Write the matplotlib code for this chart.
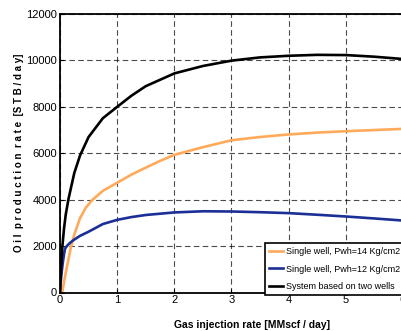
import numpy as np
import matplotlib
matplotlib.use("Agg")
import matplotlib.pyplot as plt

# values
x_orange = [0.04, 0.07, 0.1, 0.15, 0.19, 0.25, 0.35, 0.45, 0.57, 0.75, 1.0, 1.25, 1.5, 1.75, 2.0, 2.45, 3.0, 3.5, 4.0, 4.5, 5.0, 5.5, 6.0]
y_orange = [0, 450, 850, 1450, 1950, 2500, 3200, 3650, 4000, 4380, 4730, 5080, 5380, 5670, 5930, 6230, 6560, 6700, 6810, 6890, 6950, 7000, 7050]

x_blue = [0.0, 0.01, 0.02, 0.035, 0.05, 0.07, 0.09, 0.13, 0.18, 0.25, 0.35, 0.5, 0.75, 1.0, 1.25, 1.5, 2.0, 2.5, 3.0, 3.5, 4.0, 4.5, 5.0, 5.5, 6.0]
y_blue = [0, 350, 650, 1000, 1300, 1650, 1900, 2030, 2150, 2280, 2440, 2620, 2950, 3130, 3250, 3340, 3450, 3500, 3490, 3460, 3420, 3350, 3275, 3190, 3100]

x_black = [0.0, 0.01, 0.02, 0.04, 0.07, 0.1, 0.146, 0.2, 0.25, 0.35, 0.5, 0.75, 1.0, 1.25, 1.5, 2.0, 2.5, 3.0, 3.5, 4.0, 4.5, 5.0, 5.5, 6.0]
y_black = [0, 600, 1100, 1950, 2750, 3350, 4000, 4600, 5150, 5900, 6700, 7510, 8000, 8480, 8890, 9440, 9760, 9990, 10130, 10200, 10240, 10230, 10160, 10060]

labels = ["Single well, Pwh=14 Kg/cm2", "Single well, Pwh=12 Kg/cm2", "System based on two wells"]

plt.rcParams['font.family'] = ['Liberation Sans Narrow', 'Liberation Sans', 'DejaVu Sans']

fig = plt.figure(figsize=(4.01, 3.31), dpi=100)
ax = fig.add_axes([60/401, 1 - 292.5/331, 343/401, 278.5/331])

ax.plot(x_orange, y_orange, color='#ffaa5a', lw=1.9, label=labels[0], solid_joinstyle='round')
ax.plot(x_blue, y_blue, color='#1c2f96', lw=1.9, label=labels[1], solid_joinstyle='round')
ax.plot(x_black, y_black, color='black', lw=1.9, label=labels[2], solid_joinstyle='round')

ax.set_xlim(0, 6)
ax.set_ylim(0, 12000)
ax.set_xticks(range(0, 7))
ax.set_yticks(range(0, 12001, 2000))
ax.grid(True, color='black', ls=(0, (5, 3)), lw=0.8, alpha=0.7)
ax.tick_params(direction='in', labelsize=8, length=3, pad=2)
for s in ax.spines.values():
    s.set_linewidth(1.3)

ax.set_xlabel("Gas injection rate [MMscf / day]", fontsize=7.5, fontweight='bold')
ax.xaxis.set_label_coords((252 - 60) / 343, -0.1)
ax.set_ylabel("O i l  p r o d u c t i o n  r a t e  [S T B / d a y]", fontsize=7, fontweight='bold')
ax.yaxis.set_label_coords(-0.105, 0.5)

leg = ax.legend(loc='lower left', bbox_to_anchor=(205/343, -0.008), fontsize=6.5,
                handlelength=1.6, handletextpad=0.3, borderpad=0.4, labelspacing=0.95,
                fancybox=False, framealpha=1, borderaxespad=0)
leg.get_frame().set_edgecolor('black')
leg.get_frame().set_linewidth(1.2)

fig.savefig("out.png", dpi=100)
